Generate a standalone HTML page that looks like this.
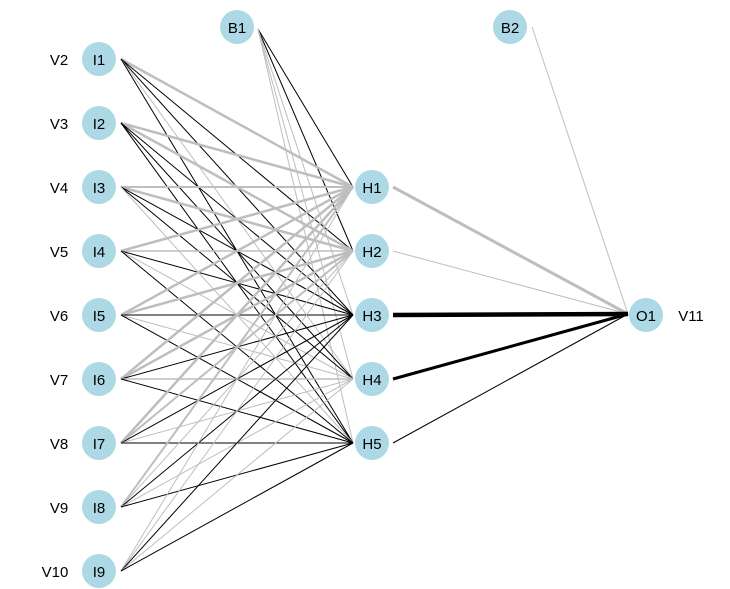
<!DOCTYPE html>
<html><head><meta charset="utf-8"><style>
html,body{margin:0;padding:0;background:#fff;width:730px;height:589px;overflow:hidden}
text{font-family:"Liberation Sans",Arial,sans-serif;font-size:15px;fill:#000}
</style></head><body>
<svg width="730" height="589" viewBox="0 0 730 589" xmlns="http://www.w3.org/2000/svg">
<g stroke-linecap="butt">
<!-- B1 -->
<line x1="258" y1="29" x2="353" y2="187" stroke="#000" stroke-width="1"/>
<line x1="258" y1="29" x2="353" y2="251" stroke="#000" stroke-width="1"/>
<line x1="258" y1="29" x2="353" y2="315" stroke="#bebebe" stroke-width="1"/>
<line x1="258" y1="29" x2="353" y2="379" stroke="#bebebe" stroke-width="1"/>
<line x1="258" y1="29" x2="353" y2="443" stroke="#bebebe" stroke-width="1"/>
<!-- I1 -->
<line x1="121" y1="59" x2="353" y2="187" stroke="#bebebe" stroke-width="2.5"/>
<line x1="121" y1="59" x2="353" y2="251" stroke="#000" stroke-width="1"/>
<line x1="121" y1="59" x2="353" y2="315" stroke="#000" stroke-width="1"/>
<line x1="121" y1="59" x2="353" y2="379" stroke="#bebebe" stroke-width="1"/>
<line x1="121" y1="59" x2="353" y2="443" stroke="#000" stroke-width="1"/>
<!-- I2 -->
<line x1="121" y1="123" x2="353" y2="187" stroke="#bebebe" stroke-width="2.5"/>
<line x1="121" y1="123" x2="353" y2="251" stroke="#bebebe" stroke-width="2.5"/>
<line x1="121" y1="123" x2="353" y2="315" stroke="#000" stroke-width="1"/>
<line x1="121" y1="123" x2="353" y2="379" stroke="#000" stroke-width="1"/>
<line x1="121" y1="123" x2="353" y2="443" stroke="#000" stroke-width="1"/>
<!-- I3 -->
<line x1="121" y1="187" x2="353" y2="187" stroke="#bebebe" stroke-width="2"/>
<line x1="121" y1="187" x2="353" y2="251" stroke="#bebebe" stroke-width="2.5"/>
<line x1="121" y1="187" x2="353" y2="315" stroke="#000" stroke-width="1"/>
<line x1="121" y1="187" x2="353" y2="379" stroke="#000" stroke-width="1"/>
<line x1="121" y1="187" x2="353" y2="443" stroke="#bebebe" stroke-width="1"/>
<!-- I4 -->
<line x1="121" y1="251" x2="353" y2="187" stroke="#bebebe" stroke-width="2.5"/>
<line x1="121" y1="251" x2="353" y2="251" stroke="#bebebe" stroke-width="1.5"/>
<line x1="121" y1="251" x2="353" y2="315" stroke="#000" stroke-width="1"/>
<line x1="121" y1="251" x2="353" y2="379" stroke="#bebebe" stroke-width="1"/>
<line x1="121" y1="251" x2="353" y2="443" stroke="#000" stroke-width="1"/>
<!-- I5 -->
<line x1="121" y1="315" x2="353" y2="187" stroke="#bebebe" stroke-width="2.5"/>
<line x1="121" y1="315" x2="353" y2="251" stroke="#bebebe" stroke-width="2.5"/>
<line x1="121" y1="315" x2="353" y2="315" stroke="#000" stroke-width="1"/>
<line x1="121" y1="315" x2="353" y2="379" stroke="#bebebe" stroke-width="1"/>
<line x1="121" y1="315" x2="353" y2="443" stroke="#000" stroke-width="1"/>
<!-- I6 -->
<line x1="121" y1="379" x2="353" y2="187" stroke="#bebebe" stroke-width="2.5"/>
<line x1="121" y1="379" x2="353" y2="251" stroke="#bebebe" stroke-width="2.5"/>
<line x1="121" y1="379" x2="353" y2="315" stroke="#000" stroke-width="1"/>
<line x1="121" y1="379" x2="353" y2="379" stroke="#bebebe" stroke-width="1.5"/>
<line x1="121" y1="379" x2="353" y2="443" stroke="#000" stroke-width="1"/>
<!-- I7 -->
<line x1="121" y1="443" x2="353" y2="187" stroke="#bebebe" stroke-width="2.5"/>
<line x1="121" y1="443" x2="353" y2="251" stroke="#bebebe" stroke-width="2"/>
<line x1="121" y1="443" x2="353" y2="315" stroke="#000" stroke-width="1"/>
<line x1="121" y1="443" x2="353" y2="379" stroke="#bebebe" stroke-width="1"/>
<line x1="121" y1="443" x2="353" y2="443" stroke="#000" stroke-width="1"/>
<!-- I8 -->
<line x1="121" y1="507" x2="353" y2="187" stroke="#bebebe" stroke-width="2"/>
<line x1="121" y1="507" x2="353" y2="251" stroke="#bebebe" stroke-width="1"/>
<line x1="121" y1="507" x2="353" y2="315" stroke="#000" stroke-width="1"/>
<line x1="121" y1="507" x2="353" y2="379" stroke="#bebebe" stroke-width="1"/>
<line x1="121" y1="507" x2="353" y2="443" stroke="#000" stroke-width="1"/>
<!-- I9 -->
<line x1="121" y1="571" x2="353" y2="187" stroke="#bebebe" stroke-width="1"/>
<line x1="121" y1="571" x2="353" y2="251" stroke="#bebebe" stroke-width="1"/>
<line x1="121" y1="571" x2="353" y2="315" stroke="#000" stroke-width="1"/>
<line x1="121" y1="571" x2="353" y2="379" stroke="#bebebe" stroke-width="1"/>
<line x1="121" y1="571" x2="353" y2="443" stroke="#000" stroke-width="1"/>
<!-- hidden to output -->
<line x1="532" y1="27" x2="628" y2="314" stroke="#bebebe" stroke-width="1"/>
<line x1="393" y1="187" x2="628" y2="314" stroke="#bebebe" stroke-width="3"/>
<line x1="393" y1="251" x2="628" y2="314" stroke="#bebebe" stroke-width="1"/>
<line x1="393" y1="315" x2="628" y2="314" stroke="#000" stroke-width="4.5"/>
<line x1="393" y1="379" x2="628" y2="314" stroke="#000" stroke-width="3"/>
<line x1="393" y1="443" x2="628" y2="314" stroke="#000" stroke-width="1"/>
</g>
<g fill="#add8e6">
<circle cx="99" cy="59" r="17"/><circle cx="99" cy="123" r="17"/><circle cx="99" cy="187" r="17"/>
<circle cx="99" cy="251" r="17"/><circle cx="99" cy="315" r="17"/><circle cx="99" cy="379" r="17"/>
<circle cx="99" cy="443" r="17"/><circle cx="99" cy="507" r="17"/><circle cx="99" cy="571" r="17"/>
<circle cx="372" cy="187" r="17"/><circle cx="372" cy="251" r="17"/><circle cx="372" cy="315" r="17"/>
<circle cx="372" cy="379" r="17"/><circle cx="372" cy="443" r="17"/>
<circle cx="237" cy="27" r="17"/><circle cx="510" cy="27" r="17"/><circle cx="646" cy="315" r="17"/>
</g>
<g text-anchor="middle">
<text x="99" y="65">I1</text><text x="99" y="129">I2</text><text x="99" y="193">I3</text>
<text x="99" y="257">I4</text><text x="99" y="321">I5</text><text x="99" y="385">I6</text>
<text x="99" y="449">I7</text><text x="99" y="513">I8</text><text x="99" y="577">I9</text>
<text x="372" y="193">H1</text><text x="372" y="257">H2</text><text x="372" y="321">H3</text>
<text x="372" y="385">H4</text><text x="372" y="449">H5</text>
<text x="237" y="33">B1</text><text x="510" y="33">B2</text><text x="646" y="321">O1</text>
<text x="59" y="65">V2</text><text x="59" y="129">V3</text><text x="59" y="193">V4</text>
<text x="59" y="257">V5</text><text x="59" y="321">V6</text><text x="59" y="385">V7</text>
<text x="59" y="449">V8</text><text x="59" y="513">V9</text><text x="55" y="577">V10</text>
<text x="691" y="321">V11</text>
</g>
</svg>
</body></html>
